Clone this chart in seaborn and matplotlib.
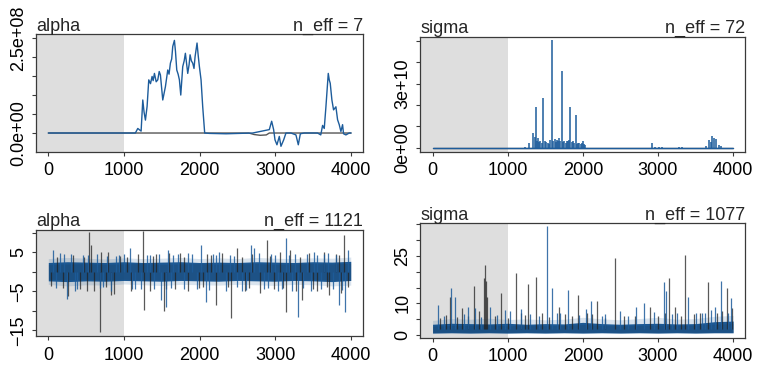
import numpy as np
import pandas as pd
import seaborn as sns
import matplotlib.pyplot as plt

# ---------------- data ----------------
x_ticks = [0, 1000, 2000, 3000, 4000]
warmup_end = 1000

# top-left: alpha (values x 1e8), n_eff = 7
a_top_black_iter = [0, 2650, 2720, 2800, 2880, 2920, 4000]
a_top_black_val = [0, 0, -0.04, -0.06, -0.05, 0, 0]
a_top_blue_iter = [0, 1150, 1182, 1226, 1248, 1265, 1283, 1305, 1327, 1350, 1371, 1385, 1402, 1425,
                   1446, 1465, 1481, 1512, 1530, 1547, 1578, 1595, 1613, 1630, 1644, 1666, 1680,
                   1697, 1715, 1732, 1750, 1776, 1795, 1811, 1842, 1860, 1873, 1890, 1908, 1925,
                   1939, 1965, 1980, 1996, 2018, 2040, 2066, 2128, 2348, 2700, 2920, 2951, 2977,
                   2995, 3021, 3052, 3074, 3110, 3140, 3206, 3272, 3303, 3330, 3382, 3558, 3600,
                   3624, 3646, 3668, 3699, 3712, 3725, 3747, 3769, 3800, 3822, 3844, 3866, 3888,
                   3901, 3932, 3976, 4000]
a_top_blue_val = [0, 0, 0.12, 0.05, 0.87, 0.55, 0.34, 0.70, 1.40, 1.30, 1.49, 1.38, 1.57, 1.35,
                  1.40, 1.62, 1.53, 0.87, 1.05, 1.22, 1.66, 1.55, 1.84, 1.95, 2.28, 2.44, 2.15,
                  1.66, 1.55, 1.40, 1.00, 1.75, 1.90, 2.10, 1.57, 1.80, 2.06, 1.90, 1.84, 1.70,
                  2.01, 2.37, 2.05, 1.75, 1.40, 0.69, 0.0, -0.01, -0.02, 0.0, 0.09, 0.31, 0.09,
                  -0.18, -0.31, -0.09, -0.35, -0.18, 0.0, 0.0, -0.05, -0.31, -0.02, 0.0, 0.0, -0.05,
                  0.20, 0.12, 0.69, 1.57, 1.40, 1.31, 0.87, 0.61, 0.69, 0.35, 0.22, 0.04, 0.22,
                  -0.02, -0.05, 0.0, 0.0]
a_top_yticks = [0, 0.5, 1.0, 1.5, 2.0, 2.5]
a_top_ylabels = ["0.0e+00", "", "", "", "", "2.5e+08"]

# top-right: sigma (values x 1e10), n_eff = 72 ; blue chain spikes
s_top_spike_iter = [1227, 1280, 1342, 1360, 1376, 1390, 1403, 1420, 1434, 1450, 1473, 1495, 1510,
                    1535, 1550, 1566, 1592, 1600, 1623, 1640, 1653, 1670, 1689, 1700, 1719, 1740,
                    1755, 1770, 1785, 1800, 1812, 1834, 1850, 1864, 1880, 1904, 1920, 1939, 1950,
                    1975, 1990, 2005, 2020, 2032, 2920, 2965, 3010, 3060, 3275, 3315, 3645, 3676,
                    3703, 3725, 3747, 3777, 3808, 3843]
s_top_spike_val = [0.02, 0.20, 0.67, 0.5, 1.89, 0.3, 0.44, 0.25, 0.30, 0.2, 2.35, 0.30, 0.25,
                   0.20, 0.15, 0.35, 5.03, 0.3, 0.40, 0.25, 0.37, 0.3, 0.44, 0.3, 3.58, 0.25,
                   0.30, 0.2, 0.30, 0.3, 0.37, 1.89, 0.25, 0.30, 0.2, 1.53, 0.15, 0.20, 0.2,
                   0.17, 0.2, 0.30, 0.15, 0.12, 0.20, 0.05, 0.05, 0.05, 0.05, 0.05, 0.08, 0.37,
                   0.25, 0.56, 0.44, 0.40, 0.12, 0.08]
s_top_yticks = [0, 1, 2, 3, 4, 5]
s_top_ylabels = ["0e+00", "", "", "3e+10", "", ""]

# bottom-left: alpha, n_eff = 1121 (dense band, fuzzy fringe, spikes per chain)
band_iter = [0, 250, 500, 750, 1000, 1250, 1500, 1750, 2000, 2250, 2500, 2750, 3000, 3250, 3500, 3750, 4000]
a_bot_black_lo = [-1.9, -2.0, -1.9, -2.1, -1.9, -2.0, -2.1, -1.9, -2.0, -2.1, -1.9, -2.0, -2.1, -2.0, -1.9, -2.1, -2.2]
a_bot_black_hi = [1.9, 2.0, 2.1, 1.9, 2.0, 2.1, 1.9, 2.0, 2.1, 1.9, 2.0, 2.1, 1.9, 2.0, 2.1, 2.0, 2.2]
a_bot_blue_lo = [-2.3, -2.5, -2.3, -2.4, -2.2, -2.3, -2.4, -2.2, -2.3, -2.4, -2.2, -2.3, -2.4, -2.2, -2.3, -2.5, -2.2]
a_bot_blue_hi = [2.4, 2.6, 2.5, 2.4, 2.6, 2.4, 2.5, 2.6, 2.4, 2.5, 2.4, 2.6, 2.5, 2.4, 2.6, 2.5, 2.7]
a_bot_fringe_lo = [-3.2, -3.6, -3.3, -3.4, -3.1, -3.3, -3.5, -3.2, -3.3, -3.4, -3.2, -3.3, -3.5, -3.2, -3.3, -3.6, -3.4]
a_bot_fringe_hi = [3.4, 3.7, 3.5, 3.3, 3.6, 3.4, 3.5, 3.7, 3.4, 3.6, 3.4, 3.7, 3.5, 3.4, 3.6, 3.5, 3.8]
a_bot_black_spk_iter = [30, 120, 259, 330, 420, 514, 536, 560, 600, 681, 699, 787, 830, 875, 950, 1092,
                        1180, 1257, 1262, 1340, 1420, 1525, 1600, 1680, 1740, 1850, 1996, 2100, 2216,
                        2300, 2414, 2502, 2600, 2700, 2800, 2889, 2980, 3060, 3140, 3193, 3280, 3360,
                        3450, 3560, 3640, 3712, 3800, 3866, 3910, 3960, 200, 470, 760, 1040, 1380,
                        1560, 1800, 2050, 2150, 2380, 2560, 2650, 2930, 3100, 3330, 3500, 3680, 3850]
a_bot_black_spk_val = [-3.5, 3.8, -6.3, 4.2, -4.5, -5.0, 10.2, 7.0, -4.8, -15.5, 5.2, 5.0, -6.0, -5.6, 4.0, -4.8,
                       4.5, 10.4, -9.7, -5.0, 4.6, -10.0, 4.8, -4.5, 4.8, -4.8, -4.2, 4.5, -8.5,
                       4.8, -11.9, 6.1, -5.0, 4.6, -5.5, 8.2, -4.5, 5.0, -10.3, 5.6, -5.0, -7.2,
                       4.8, -5.0, 5.0, -6.0, 4.5, -5.5, 9.5, -4.0, -4.2, 3.9, -4.0, 3.8, 4.0,
                       -4.3, 3.9, -3.8, 4.2, -4.0, 3.8, -4.1, 4.0, -4.2, 3.9, -4.3, -4.0, 4.4]
a_bot_blue_spk_iter = [60, 150, 246, 300, 380, 460, 640, 720, 831, 900, 941, 1079, 1150, 1300, 1400,
                       1490, 1553, 1578, 1650, 1800, 1900, 2017, 2084, 2180, 2260, 2348, 2450, 2560,
                       2678, 2722, 2850, 2950, 3040, 3146, 3220, 3305, 3420, 3514, 3600, 3700, 3844,
                       3923, 3963, 100, 210, 350, 520, 680, 780, 1000, 1110, 1230, 1350, 1460, 1620,
                       1720, 1850, 1960, 2130, 2220, 2400, 2500, 2620, 2780, 2900, 3000, 3090, 3180,
                       3260, 3370, 3470, 3560, 3650, 3760, 3800, 3890]
a_bot_blue_spk_val = [5.6, 4.8, -6.9, 4.5, -4.5, 4.4, 4.5, -4.0, -5.0, 4.0, 4.4, 6.1, -4.5, 4.2, -4.5,
                      -7.1, -8.9, 5.6, 4.2, -4.5, 4.5, 6.9, -7.6, 4.5, 5.2, -5.0, 4.0, -4.8,
                      6.9, 6.2, -4.5, 4.5, -4.8, 8.6, -5.0, -11.5, 4.6, 5.2, -4.5, 4.8, -8.5,
                      -10.3, 5.6, -4.2, 4.5, -4.8, 4.3, -4.1, 4.0, 4.6, -4.3, -4.5, 4.4, 4.6, -4.2,
                      4.5, 4.8, -4.4, -4.6, 4.2, 4.4, -4.0, -4.6, 4.8, -4.2, 4.4, -4.5, 4.3,
                      4.6, -4.2, -4.8, 4.2, 4.7, -4.5, 4.4, -4.6]
a_bot_yticks = [-15, -10, -5, 0, 5, 10]
a_bot_ylabels = ["\u221215", "", "\u22125", "", "5", ""]

# bottom-right: sigma, n_eff = 1077
s_bot_black_lo = [0.8, 0.9, 0.8, 0.9, 0.8, 0.9, 0.8, 0.9, 0.8, 0.9, 0.8, 0.9, 0.8, 0.9, 0.8, 0.9, 0.9]
s_bot_black_hi = [2.8, 3.0, 3.1, 3.2, 2.9, 3.0, 2.9, 3.0, 3.3, 3.0, 2.9, 3.0, 3.1, 3.0, 3.1, 3.4, 3.6]
s_bot_blue_lo = [0.6, 0.7, 0.6, 0.7, 0.6, 0.7, 0.6, 0.7, 0.6, 0.7, 0.6, 0.7, 0.6, 0.7, 0.6, 0.7, 0.7]
s_bot_blue_hi = [3.4, 3.7, 3.6, 3.5, 3.7, 3.4, 3.6, 3.5, 4.0, 3.6, 3.4, 3.6, 3.7, 3.5, 3.6, 4.2, 4.4]
s_bot_fringe_hi = [4.6, 5.2, 5.0, 5.3, 4.9, 5.1, 4.8, 5.0, 5.6, 5.1, 4.8, 5.2, 5.6, 5.0, 5.2, 5.9, 6.2]
s_bot_black_spk_iter = [185, 238, 391, 546, 620, 680, 700, 715, 730, 830, 907, 1104, 1180, 1276, 1381,
                        1450, 1680, 1760, 1931, 2060, 2195, 2428, 2550, 2899, 3000, 3150, 3229, 3361,
                        3480, 3560, 3660, 3780, 3919, 3990, 100, 330, 470, 1000, 1230, 1550, 1850,
                        2120, 2300, 2700, 3100, 3300, 3850]
s_bot_black_spk_val = [6.4, 12.1, 8.5, 15.5, 7.5, 18.0, 22.2, 17.0, 12.0, 6.0, 13.4, 19.5, 7.0, 16.1, 18.2,
                       7.0, 8.8, 6.5, 12.7, 7.0, 10.6, 24.3, 6.0, 9.0, 6.0, 18.0, 8.8, 25.3,
                       6.5, 7.0, 16.6, 7.0, 14.8, 8.5, 5.5, 5.8, 6.0, 5.5, 6.2, 5.8, 6.0,
                       6.5, 5.5, 6.0, 6.8, 6.0, 7.5]
s_bot_blue_spk_iter = [75, 251, 295, 471, 568, 766, 964, 1030, 1183, 1526, 1592, 1650, 1803, 2045,
                       2107, 2300, 2701, 2820, 3075, 3106, 3250, 3405, 3500, 3700, 3845, 3930, 3977,
                       150, 420, 640, 860, 1300, 1420, 1700, 1950, 2250, 2500, 2600, 2950, 3180,
                       3580, 3620, 3760]
s_bot_blue_spk_val = [9.5, 14.8, 12.1, 9.0, 8.6, 8.8, 8.0, 7.5, 8.3, 34.5, 14.8, 7.0, 14.3, 8.3,
                      10.6, 6.5, 8.8, 10.0, 16.6, 13.8, 7.0, 12.1, 7.0, 8.0, 17.2, 7.0, 11.6,
                      6.0, 6.5, 5.8, 6.2, 6.5, 6.0, 7.0, 6.4, 6.0, 7.5, 6.0, 7.2, 6.5,
                      6.8, 7.0, 9.0]
s_bot_yticks = [0, 5, 10, 15, 20, 25, 30, 35]
s_bot_ylabels = ["0", "", "10", "", "", "25", "", ""]

titles = [("alpha", "n_eff = 7"), ("sigma", "n_eff = 72"),
          ("alpha", "n_eff = 1121"), ("sigma", "n_eff = 1077")]

# ---------------- style ----------------
sns.set_theme(style="white")
plt.rcParams["font.family"] = ["Liberation Sans", "DejaVu Sans"]
BLUE = "#1d5c9b"
CORE = "#0d4d8c"
BLACK = "#222222"
GRAY = "#dedede"
FRAME = "#3a3a3a"

fig = plt.figure(figsize=(7.57, 3.68), dpi=100)
W, H = 757.0, 368.0
# boxes in pixels: left, top, right, bottom
boxes = [(36, 34.3, 363, 152), (420.3, 36.7, 745, 151.7),
         (36, 229.7, 362.7, 336.3), (420.3, 223.3, 745, 338)]
axes = []
for (l, t, r, b) in boxes:
    axes.append(fig.add_axes([l / W, 1 - b / H, (r - l) / W, (b - t) / H]))
ax_tl, ax_tr, ax_bl, ax_br = axes

# top-left trace
df_a = pd.concat([
    pd.DataFrame({"iter": a_top_black_iter, "value": np.array(a_top_black_val) * 1e8, "chain": "1"}),
    pd.DataFrame({"iter": a_top_blue_iter, "value": np.array(a_top_blue_val) * 1e8, "chain": "2"}),
])
sns.lineplot(data=df_a, x="iter", y="value", hue="chain", palette={"1": "#555555", "2": BLUE},
             estimator=None, sort=False, legend=False, lw=1.0, ax=ax_tl)
ax_tl.set_ylim(-0.50e8, 2.60e8)
ax_tl.set_yticks(np.array(a_top_yticks) * 1e8)
ax_tl.set_yticklabels(a_top_ylabels)

# top-right trace
df_s = pd.DataFrame({"iter": [0, 4000, 0, 4000], "value": [0, 0, 0, 0], "chain": ["1", "1", "2", "2"]})
sns.lineplot(data=df_s, x="iter", y="value", hue="chain", palette={"1": "#555555", "2": BLUE},
             estimator=None, sort=False, legend=False, lw=1.0, ax=ax_tr)
ax_tr.vlines(s_top_spike_iter, 0, np.array(s_top_spike_val) * 1e10, color=BLUE, lw=1.1)
ax_tr.set_ylim(-0.19e10, 5.2e10)
ax_tr.set_yticks(np.array(s_top_yticks) * 1e10)
ax_tr.set_yticklabels(s_top_ylabels)

# bottom panels: faint fringe + dense band + spikes
def dense_trace(ax, f_lo, f_hi, lo_k, hi_k, spk_k_i, spk_k_v, lo_b, hi_b, spk_b_i, spk_b_v, base):
    ax.fill_between(band_iter, f_lo, f_hi, color=BLUE, alpha=0.16, lw=0)
    ax.vlines(spk_k_i, base, spk_k_v, color=BLACK, lw=0.9, alpha=0.75)
    ax.vlines(spk_b_i, base, spk_b_v, color=BLUE, lw=0.9, alpha=0.85)
    ax.fill_between(band_iter, lo_b, hi_b, color=CORE, alpha=0.92, lw=0)
    ax.fill_between(band_iter, lo_k, hi_k, color=BLACK, alpha=0.12, lw=0)

dense_trace(ax_bl, a_bot_fringe_lo, a_bot_fringe_hi,
            a_bot_black_lo, a_bot_black_hi, a_bot_black_spk_iter, a_bot_black_spk_val,
            a_bot_blue_lo, a_bot_blue_hi, a_bot_blue_spk_iter, a_bot_blue_spk_val, 0)
ax_bl.set_ylim(-16.5, 10.8)
ax_bl.set_yticks(a_bot_yticks)
ax_bl.set_yticklabels(a_bot_ylabels)

dense_trace(ax_br, s_bot_blue_lo, s_bot_fringe_hi,
            s_bot_black_lo, s_bot_black_hi, s_bot_black_spk_iter, s_bot_black_spk_val,
            s_bot_blue_lo, s_bot_blue_hi, s_bot_blue_spk_iter, s_bot_blue_spk_val, 1.8)
ax_br.set_ylim(-0.95, 35.3)
ax_br.set_yticks(s_bot_yticks)
ax_br.set_yticklabels(s_bot_ylabels)

for ax, (l, t, r, b), (left_t, right_t) in zip(axes, boxes, titles):
    ax.set_xlim(-163, 4158)
    ax.axvspan(-163, warmup_end, color=GRAY, lw=0, zorder=0)
    ax.set_xticks(x_ticks)
    ax.set_xticklabels([str(v) for v in x_ticks])
    ax.set_xlabel("")
    ax.set_ylabel("")
    for sp in ax.spines.values():
        sp.set_visible(True)
        sp.set_color(FRAME)
        sp.set_linewidth(0.9)
    ax.tick_params(axis="both", direction="out", length=3, width=0.8, color=FRAME,
                   labelsize=13, labelcolor="black", pad=4.5)
    ax.tick_params(axis="y", left=True, labelrotation=90, pad=3.5)
    ax.tick_params(axis="x", bottom=True)
    for lab in ax.get_yticklabels():
        lab.set_va("center")
    yb = 1 - (t - 3.5) / H
    fig.text(l / W, yb, left_t, ha="left", va="baseline", fontsize=13)
    fig.text(r / W, yb, right_t, ha="right", va="baseline", fontsize=13)

fig.savefig("out.png", dpi=100)
